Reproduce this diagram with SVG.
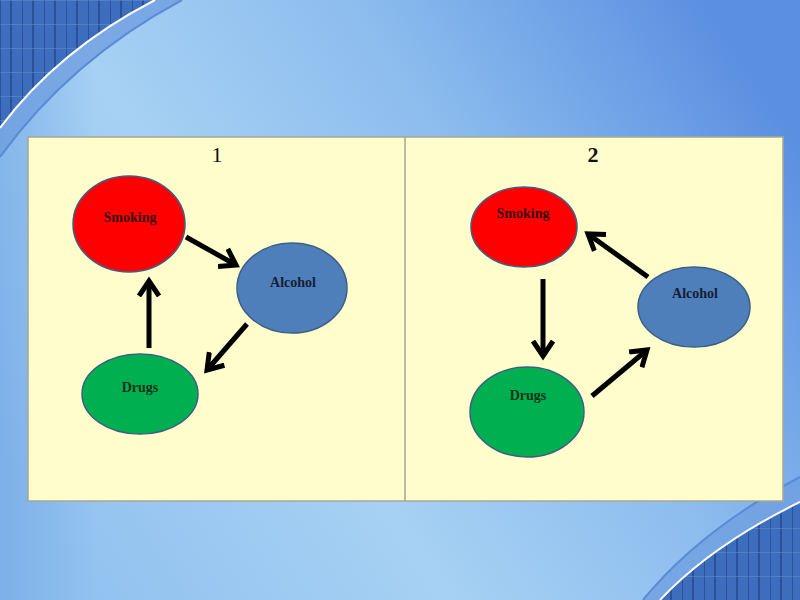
<svg xmlns="http://www.w3.org/2000/svg" width="800" height="600" viewBox="0 0 800 600">
<defs>
<linearGradient id="bg" x1="0" y1="0.75" x2="1" y2="0.25">
<stop offset="0" stop-color="#92c2ef"/>
<stop offset="0.35" stop-color="#a6d1f4"/>
<stop offset="0.65" stop-color="#8dbdee"/>
<stop offset="1" stop-color="#5b90e1"/>
</linearGradient>
<linearGradient id="edge" x1="0" y1="0" x2="1" y2="0">
<stop offset="0" stop-color="#5f95e0" stop-opacity="0.4"/>
<stop offset="0.12" stop-color="#5f95e0" stop-opacity="0"/>
<stop offset="1" stop-color="#5f95e0" stop-opacity="0"/>
</linearGradient>
<pattern id="grid" width="22" height="24" patternUnits="userSpaceOnUse">
<rect width="22" height="24" fill="#3d6dbd"/>
<path d="M0,0 V24 M11,0 V24" stroke="#2c509a" stroke-width="2"/>
<path d="M0,0 H22" stroke="#6690d2" stroke-width="1"/>
</pattern>
<marker id="arr" markerUnits="userSpaceOnUse" markerWidth="26" markerHeight="26" refX="16" refY="13" orient="auto" viewBox="0 0 26 26">
<path d="M1,3 L16,13 L1,23" fill="none" stroke="#000" stroke-width="5" stroke-linejoin="miter"/>
</marker>
<style>
.lbl{font-family:"Liberation Serif","Times New Roman",serif;font-size:14px;font-weight:bold;text-anchor:middle}
.num{font-family:"Liberation Serif","Times New Roman",serif;font-size:22px;text-anchor:middle;fill:#111}
.node{stroke:#3d5f86;stroke-width:1.5}
.con{stroke:#000;stroke-width:5;fill:none;marker-end:url(#arr)}
</style>
</defs>
<rect width="800" height="600" fill="url(#bg)"/>
<rect width="800" height="600" fill="url(#edge)"/>
<!-- top-left decoration -->
<path d="M0,0 H182 Q70,60 0,157 Z" fill="#6f9fe0" opacity="0.8"/>
<path d="M0,0 H155 Q58,50 0,128 Z" fill="url(#grid)"/>
<path d="M182,0 Q70,60 0,157" fill="none" stroke="#5b8ad6" stroke-width="2"/>
<path d="M155,0 Q58,50 0,128" fill="none" stroke="#ffffff" stroke-width="2"/>
<!-- bottom-right decoration -->
<path d="M800,477 Q700,530 643,600 H800 Z" fill="#6f9fe0" opacity="0.8"/>
<path d="M800,502 Q712,545 660,600 H800 Z" fill="url(#grid)"/>
<path d="M800,477 Q700,530 643,600" fill="none" stroke="#5b8ad6" stroke-width="2"/>
<path d="M800,502 Q712,545 660,600" fill="none" stroke="#ffffff" stroke-width="2"/>
<!-- table -->
<rect x="28" y="137" width="755" height="364" fill="#fffdcc" stroke="#a8a692" stroke-width="1.5"/>
<line x1="405" y1="137" x2="405" y2="501" stroke="#a8a692" stroke-width="1.5"/>
<text class="num" x="217" y="162">1</text>
<text class="num" x="593" y="162" font-weight="bold">2</text>
<!-- panel 1 nodes -->
<g id="p1-smoking"><ellipse class="node" cx="129" cy="224" rx="56" ry="48" fill="#ff0000"/><text class="lbl" x="130" y="222" fill="#3a0808">Smoking</text></g>
<g id="p1-alcohol"><ellipse class="node" cx="292" cy="288" rx="55" ry="45" fill="#4f7fbb"/><text class="lbl" x="293" y="287" fill="#141e36">Alcohol</text></g>
<g id="p1-drugs"><ellipse class="node" cx="140" cy="394" rx="58" ry="40" fill="#00b050"/><text class="lbl" x="140" y="392" fill="#0a3418">Drugs</text></g>
<!-- panel 2 nodes -->
<g id="p2-smoking"><ellipse class="node" cx="524" cy="227" rx="53" ry="40" fill="#ff0000"/><text class="lbl" x="523" y="218" fill="#3a0808">Smoking</text></g>
<g id="p2-alcohol"><ellipse class="node" cx="694" cy="307" rx="56" ry="40" fill="#4f7fbb"/><text class="lbl" x="695" y="298" fill="#141e36">Alcohol</text></g>
<g id="p2-drugs"><ellipse class="node" cx="527" cy="412" rx="57" ry="45" fill="#00b050"/><text class="lbl" x="528" y="400" fill="#0a3418">Drugs</text></g>
<!-- connectors -->
<g id="connectors">
<line class="con" x1="186" y1="237" x2="236" y2="265"/>
<line class="con" x1="247" y1="324" x2="207" y2="370"/>
<line class="con" x1="149" y1="348" x2="149" y2="281"/>
<line class="con" x1="543" y1="279" x2="543" y2="356"/>
<line class="con" x1="648" y1="277" x2="588" y2="234"/>
<line class="con" x1="592" y1="396" x2="647" y2="350"/>
</g>
</svg>
